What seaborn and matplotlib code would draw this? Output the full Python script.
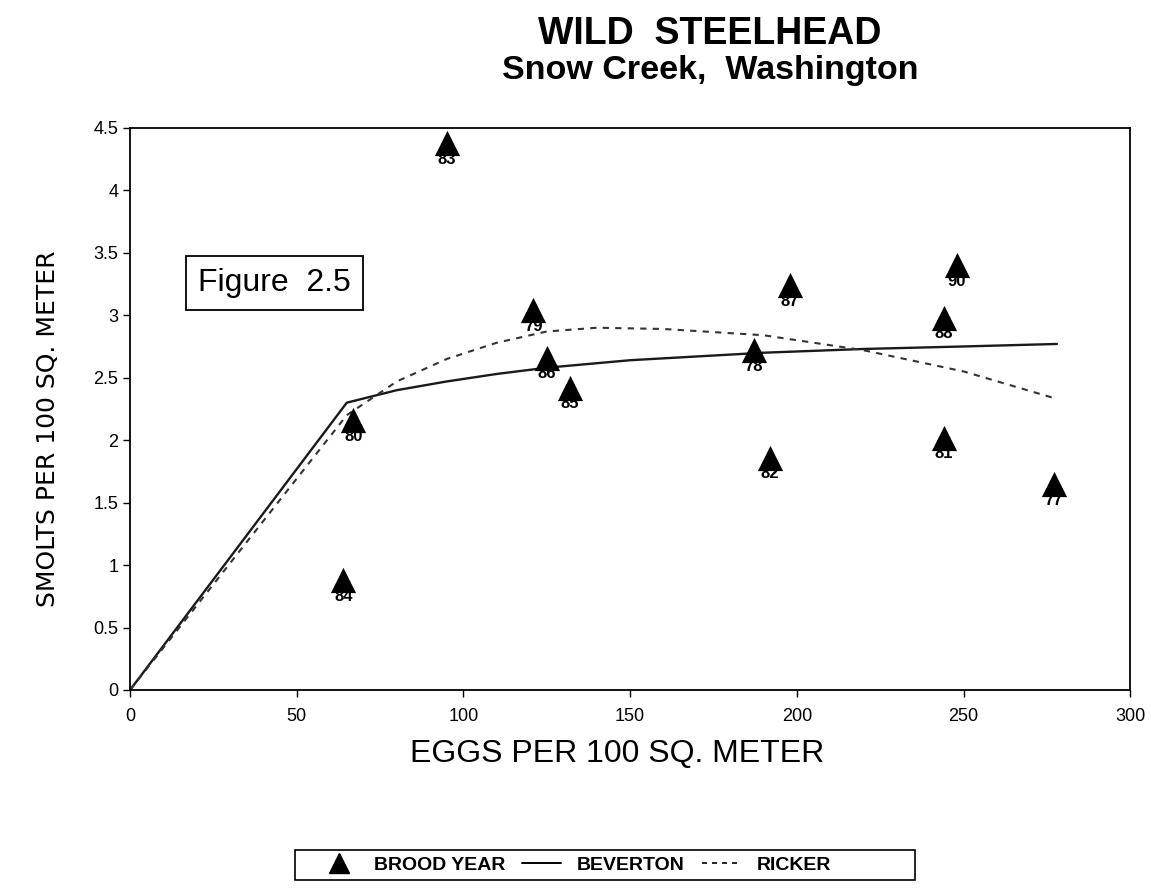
import matplotlib
matplotlib.use("Agg")
import matplotlib.pyplot as plt
import seaborn as sns
import pandas as pd
from matplotlib.lines import Line2D
from matplotlib.patches import Rectangle

# Data
eggs = [95, 121, 125, 132, 67, 64, 187, 198, 192, 248, 244, 244, 277]
smolts = [4.38, 3.04, 2.66, 2.42, 2.16, 0.88, 2.72, 3.24, 1.86, 3.40, 2.98, 2.02, 1.65]
brood_year = ["83", "79", "86", "85", "80", "84", "78", "87", "82", "90", "88", "81", "77"]

bev_x = [0, 65, 80, 95, 110, 125, 150, 190, 220, 250, 278]
bev_y = [0, 2.30, 2.40, 2.47, 2.53, 2.58, 2.64, 2.70, 2.73, 2.75, 2.77]
ric_x = [0, 65, 80, 95, 110, 125, 140, 160, 190, 220, 250, 278]
ric_y = [0, 2.20, 2.47, 2.65, 2.78, 2.87, 2.90, 2.89, 2.84, 2.72, 2.55, 2.33]

x_ticks = [0, 50, 100, 150, 200, 250, 300]
y_ticks = [0, 0.5, 1, 1.5, 2, 2.5, 3, 3.5, 4, 4.5]
y_ticklabels = ["0", "0.5", "1", "1.5", "2", "2.5", "3", "3.5", "4", "4.5"]

sns.set_style("white")
plt.rcParams['font.family'] = ['Liberation Sans', 'DejaVu Sans']
plt.rcParams['text.color'] = 'black'
plt.rcParams['axes.labelcolor'] = 'black'
plt.rcParams['xtick.color'] = 'black'
plt.rcParams['ytick.color'] = 'black'

fig = plt.figure(figsize=(11.51, 8.88), dpi=100)
ax = fig.add_axes([0.113, 0.223, 0.869, 0.633])

pts = pd.DataFrame({"eggs": eggs, "smolts": smolts, "year": brood_year})
bev = pd.DataFrame({"x": bev_x, "y": bev_y})
ric = pd.DataFrame({"x": ric_x, "y": ric_y})

sns.lineplot(data=bev, x="x", y="y", ax=ax, color="#1a1a1a", lw=1.7, sort=False)
sns.lineplot(data=ric, x="x", y="y", ax=ax, color="#333333", lw=1.5,
             linestyle=(0, (3, 3)), sort=False)
sns.scatterplot(data=pts, x="eggs", y="smolts", ax=ax, marker="^", s=330,
                color="black", edgecolor="black", linewidth=0, zorder=5)
for x, y, t in zip(eggs, smolts, brood_year):
    ax.text(x, y - 0.13, t, ha="center", va="center", fontsize=12,
            fontweight="bold", color="black", zorder=6)

ax.set_xlim(0, 300)
ax.set_ylim(0, 4.5)
ax.set_xticks(x_ticks)
ax.set_xticklabels([str(v) for v in x_ticks])
ax.set_yticks(y_ticks)
ax.set_yticklabels(y_ticklabels)
ax.tick_params(axis="both", labelsize=13, length=5, direction="out",
               color="black", width=1, left=True, bottom=True)
ax.tick_params(axis="x", pad=8)
for sp in ax.spines.values():
    sp.set_color("black")
    sp.set_linewidth(1.3)

ax.set_xlabel("EGGS PER 100 SQ. METER", fontsize=23)
ax.xaxis.set_label_coords(0.487, -0.088)
ax.set_ylabel("SMOLTS PER 100 SQ. METER", fontsize=18, family="DejaVu Sans")
ax.yaxis.set_label_coords(-0.07, 0.465)

fig.text(0.617, 0.962, "WILD  STEELHEAD", ha="center", va="center",
         fontsize=27, fontweight="bold")
fig.text(0.617, 0.921, "Snow Creek,  Washington", ha="center", va="center",
         fontsize=24.5, fontweight="bold")

ax.text(0.068, 0.724, "Figure  2.5", transform=ax.transAxes, fontsize=23,
        ha="left", va="center",
        bbox=dict(boxstyle="square,pad=0.38", fc="white", ec="black", lw=1.3))

handles = [
    Line2D([], [], marker="^", color="black", linestyle="none", markersize=14),
    Line2D([], [], color="black", lw=1.4),
    Line2D([], [], color="black", lw=1.2, linestyle=(0, (3, 3))),
]
fig.patches.append(Rectangle((0.256, 0.009), 0.539, 0.034, transform=fig.transFigure,
                             fill=False, ec="black", lw=1.2))
leg = fig.legend(handles, ["BROOD YEAR", "BEVERTON", "RICKER"],
                 loc="center left", bbox_to_anchor=(0.262, 0.026),
                 ncol=3, frameon=False,
                 prop={"size": 14, "weight": "bold"},
                 handlelength=2.0, handletextpad=0.8, columnspacing=0.9)

fig.savefig("out.png", dpi=100)
